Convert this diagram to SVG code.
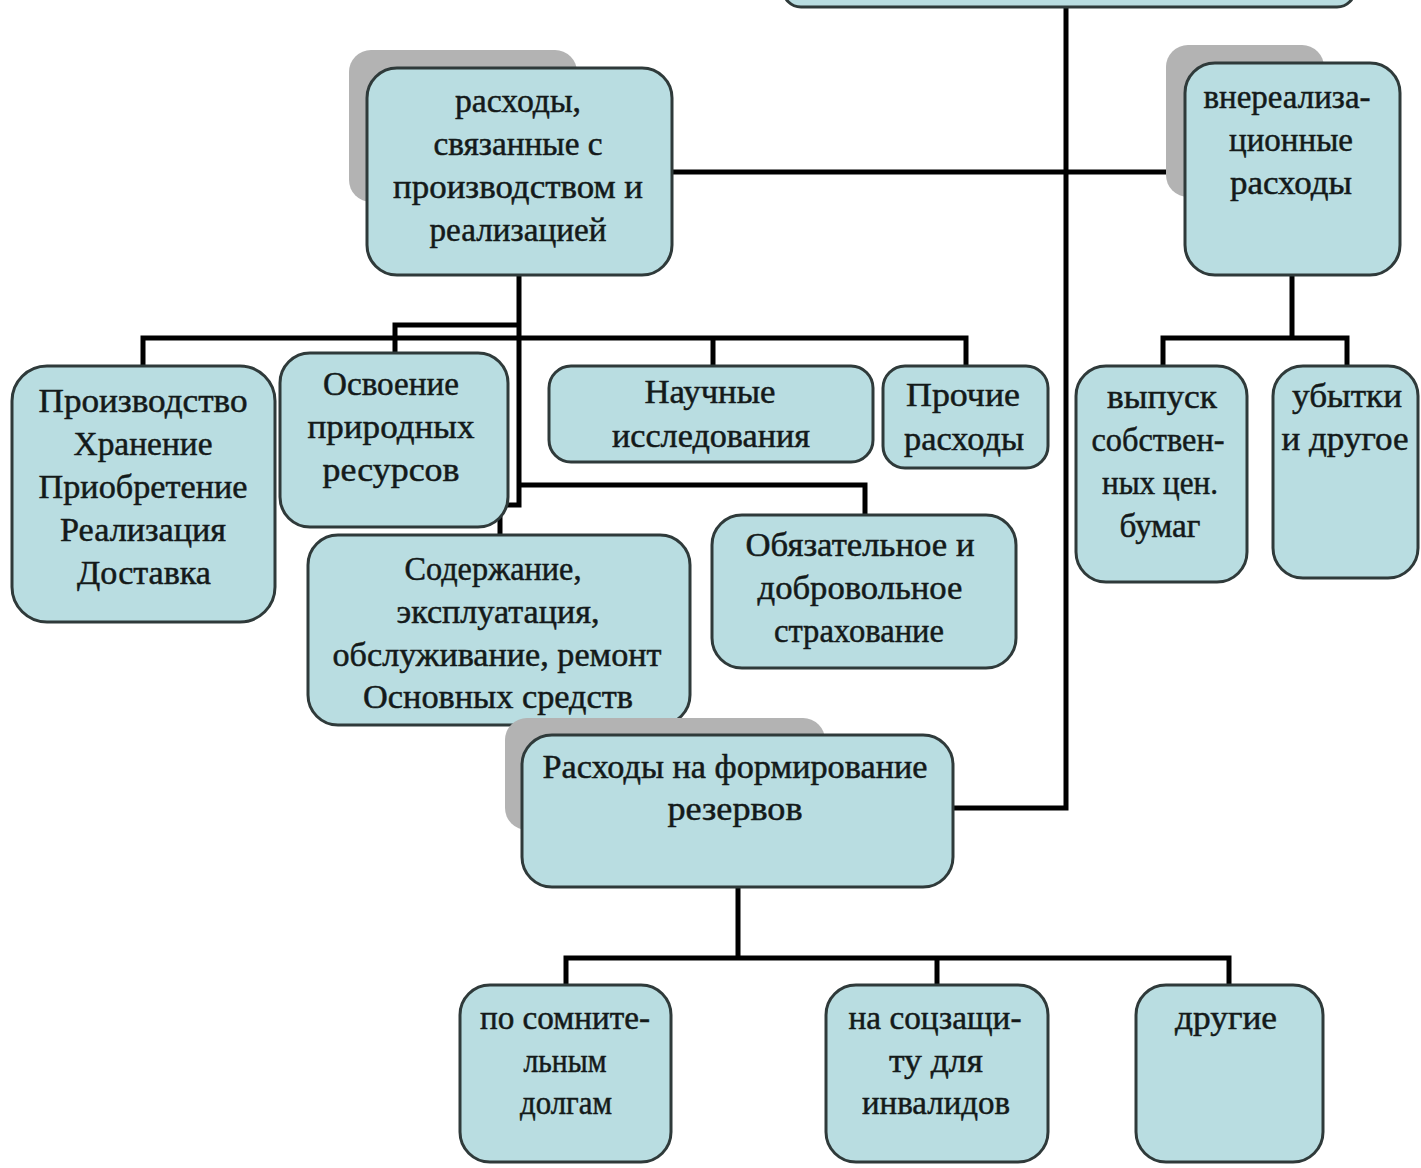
<svg xmlns="http://www.w3.org/2000/svg" width="1421" height="1168" viewBox="0 0 1421 1168">
<style>
.box{fill:#b9dde1;stroke:#2f3a3a;stroke-width:3}
.sh{fill:#b3b3b3}
.c{fill:none;stroke:#000;stroke-width:5}
text{font-family:"Liberation Serif","DejaVu Serif",serif;font-size:34px;fill:#141a1a;stroke:#141a1a;stroke-width:0.5;text-anchor:middle}
</style>
<rect width="1421" height="1168" fill="#fff"/>
<g id="connectors">
<path class="c" d="M1066,5 V808 H953"/>
<path class="c" d="M672,172 H1185"/>
<path class="c" d="M519,275 V505 H500 V537"/>
<path class="c" d="M143,366 V338 H966 V366"/>
<path class="c" d="M713,338 V366"/>
<path class="c" d="M519,325 H395 V353"/>
<path class="c" d="M519,485 H865 V515"/>
<path class="c" d="M1292,275 V338 M1163,366 V338 H1347 V366"/>
<path class="c" d="M738,887 V958 M566,985 V958 H1229 V985 M937,958 V985"/>
</g>
<g id="top"><rect class="box" x="783" y="-30" width="572" height="37" rx="18"/></g>
<g id="n1">
<rect class="sh" x="349" y="50" width="228" height="152" rx="22"/>
<rect class="box" x="367" y="68" width="305" height="207" rx="30"/>
<text x="518" y="112" textLength="126" lengthAdjust="spacingAndGlyphs">расходы,</text>
<text x="518" y="155" textLength="169" lengthAdjust="spacingAndGlyphs">связанные с</text>
<text x="518" y="198" textLength="250" lengthAdjust="spacingAndGlyphs">производством и</text>
<text x="518" y="241" textLength="177" lengthAdjust="spacingAndGlyphs">реализацией</text>
</g>
<g id="n2">
<rect class="sh" x="1166" y="45" width="158" height="152" rx="22"/>
<rect class="box" x="1185" y="63" width="215" height="212" rx="30"/>
<text x="1287" y="108" textLength="167" lengthAdjust="spacingAndGlyphs">внереализа-</text>
<text x="1291" y="151" textLength="124" lengthAdjust="spacingAndGlyphs">ционные</text>
<text x="1291" y="194" textLength="122" lengthAdjust="spacingAndGlyphs">расходы</text>
</g>
<g id="n3">
<rect class="box" x="12" y="366" width="263" height="256" rx="35"/>
<text x="143" y="412" textLength="209" lengthAdjust="spacingAndGlyphs">Производство</text>
<text x="143" y="455" textLength="139" lengthAdjust="spacingAndGlyphs">Хранение</text>
<text x="143" y="498" textLength="209" lengthAdjust="spacingAndGlyphs">Приобретение</text>
<text x="143" y="541" textLength="166" lengthAdjust="spacingAndGlyphs">Реализация</text>
<text x="144" y="584" textLength="134" lengthAdjust="spacingAndGlyphs">Доставка</text>
</g>
<g id="n4">
<rect class="box" x="280" y="353" width="228" height="174" rx="30"/>
<text x="391" y="395" textLength="136" lengthAdjust="spacingAndGlyphs">Освоение</text>
<text x="391" y="438" textLength="167" lengthAdjust="spacingAndGlyphs">природных</text>
<text x="391" y="481" textLength="137" lengthAdjust="spacingAndGlyphs">ресурсов</text>
</g>
<g id="n5">
<rect class="box" x="549" y="366" width="324" height="96" rx="22"/>
<text x="710" y="403" textLength="131" lengthAdjust="spacingAndGlyphs">Научные</text>
<text x="711" y="447" textLength="198" lengthAdjust="spacingAndGlyphs">исследования</text>
</g>
<g id="n6">
<rect class="box" x="883" y="366" width="165" height="102" rx="22"/>
<text x="963" y="406" textLength="114" lengthAdjust="spacingAndGlyphs">Прочие</text>
<text x="964" y="450" textLength="120" lengthAdjust="spacingAndGlyphs">расходы</text>
</g>
<g id="n7">
<rect class="box" x="308" y="535" width="382" height="190" rx="30"/>
<text x="493" y="580" textLength="177" lengthAdjust="spacingAndGlyphs">Содержание,</text>
<text x="498" y="623" textLength="203" lengthAdjust="spacingAndGlyphs">эксплуатация,</text>
<text x="497" y="666" textLength="329" lengthAdjust="spacingAndGlyphs">обслуживание, ремонт</text>
<text x="498" y="708" textLength="270" lengthAdjust="spacingAndGlyphs">Основных средств</text>
</g>
<g id="n8">
<rect class="box" x="712" y="515" width="304" height="153" rx="30"/>
<text x="860" y="556" textLength="229" lengthAdjust="spacingAndGlyphs">Обязательное и</text>
<text x="860" y="599" textLength="205" lengthAdjust="spacingAndGlyphs">добровольное</text>
<text x="859" y="642" textLength="170" lengthAdjust="spacingAndGlyphs">страхование</text>
</g>
<g id="n9">
<rect class="box" x="1076" y="366" width="171" height="216" rx="30"/>
<text x="1162" y="408" textLength="110" lengthAdjust="spacingAndGlyphs">выпуск</text>
<text x="1158" y="451" textLength="133" lengthAdjust="spacingAndGlyphs">собствен-</text>
<text x="1160" y="494" textLength="116" lengthAdjust="spacingAndGlyphs">ных цен.</text>
<text x="1160" y="537" textLength="81" lengthAdjust="spacingAndGlyphs">бумаг</text>
</g>
<g id="n10">
<rect class="box" x="1273" y="366" width="145" height="212" rx="30"/>
<text x="1347" y="407" textLength="110" lengthAdjust="spacingAndGlyphs">убытки</text>
<text x="1345" y="450" textLength="127" lengthAdjust="spacingAndGlyphs">и другое</text>
</g>
<g id="n11">
<rect class="sh" x="505" y="718" width="320" height="112" rx="22"/>
<rect class="box" x="522" y="735" width="431" height="152" rx="30"/>
<text x="735" y="778" textLength="385" lengthAdjust="spacingAndGlyphs">Расходы на формирование</text>
<text x="735" y="820" textLength="135" lengthAdjust="spacingAndGlyphs">резервов</text>
</g>
<g id="n12">
<rect class="box" x="460" y="985" width="211" height="177" rx="30"/>
<text x="565" y="1029" textLength="170" lengthAdjust="spacingAndGlyphs">по сомните-</text>
<text x="565" y="1072" textLength="83" lengthAdjust="spacingAndGlyphs">льным</text>
<text x="566" y="1114" textLength="92" lengthAdjust="spacingAndGlyphs">долгам</text>
</g>
<g id="n13">
<rect class="box" x="826" y="985" width="222" height="177" rx="30"/>
<text x="935" y="1029" textLength="173" lengthAdjust="spacingAndGlyphs">на соцзащи-</text>
<text x="936" y="1072" textLength="94" lengthAdjust="spacingAndGlyphs">ту для</text>
<text x="936" y="1114" textLength="148" lengthAdjust="spacingAndGlyphs">инвалидов</text>
</g>
<g id="n14">
<rect class="box" x="1136" y="985" width="187" height="177" rx="30"/>
<text x="1226" y="1029" textLength="102" lengthAdjust="spacingAndGlyphs">другие</text>
</g>
</svg>
